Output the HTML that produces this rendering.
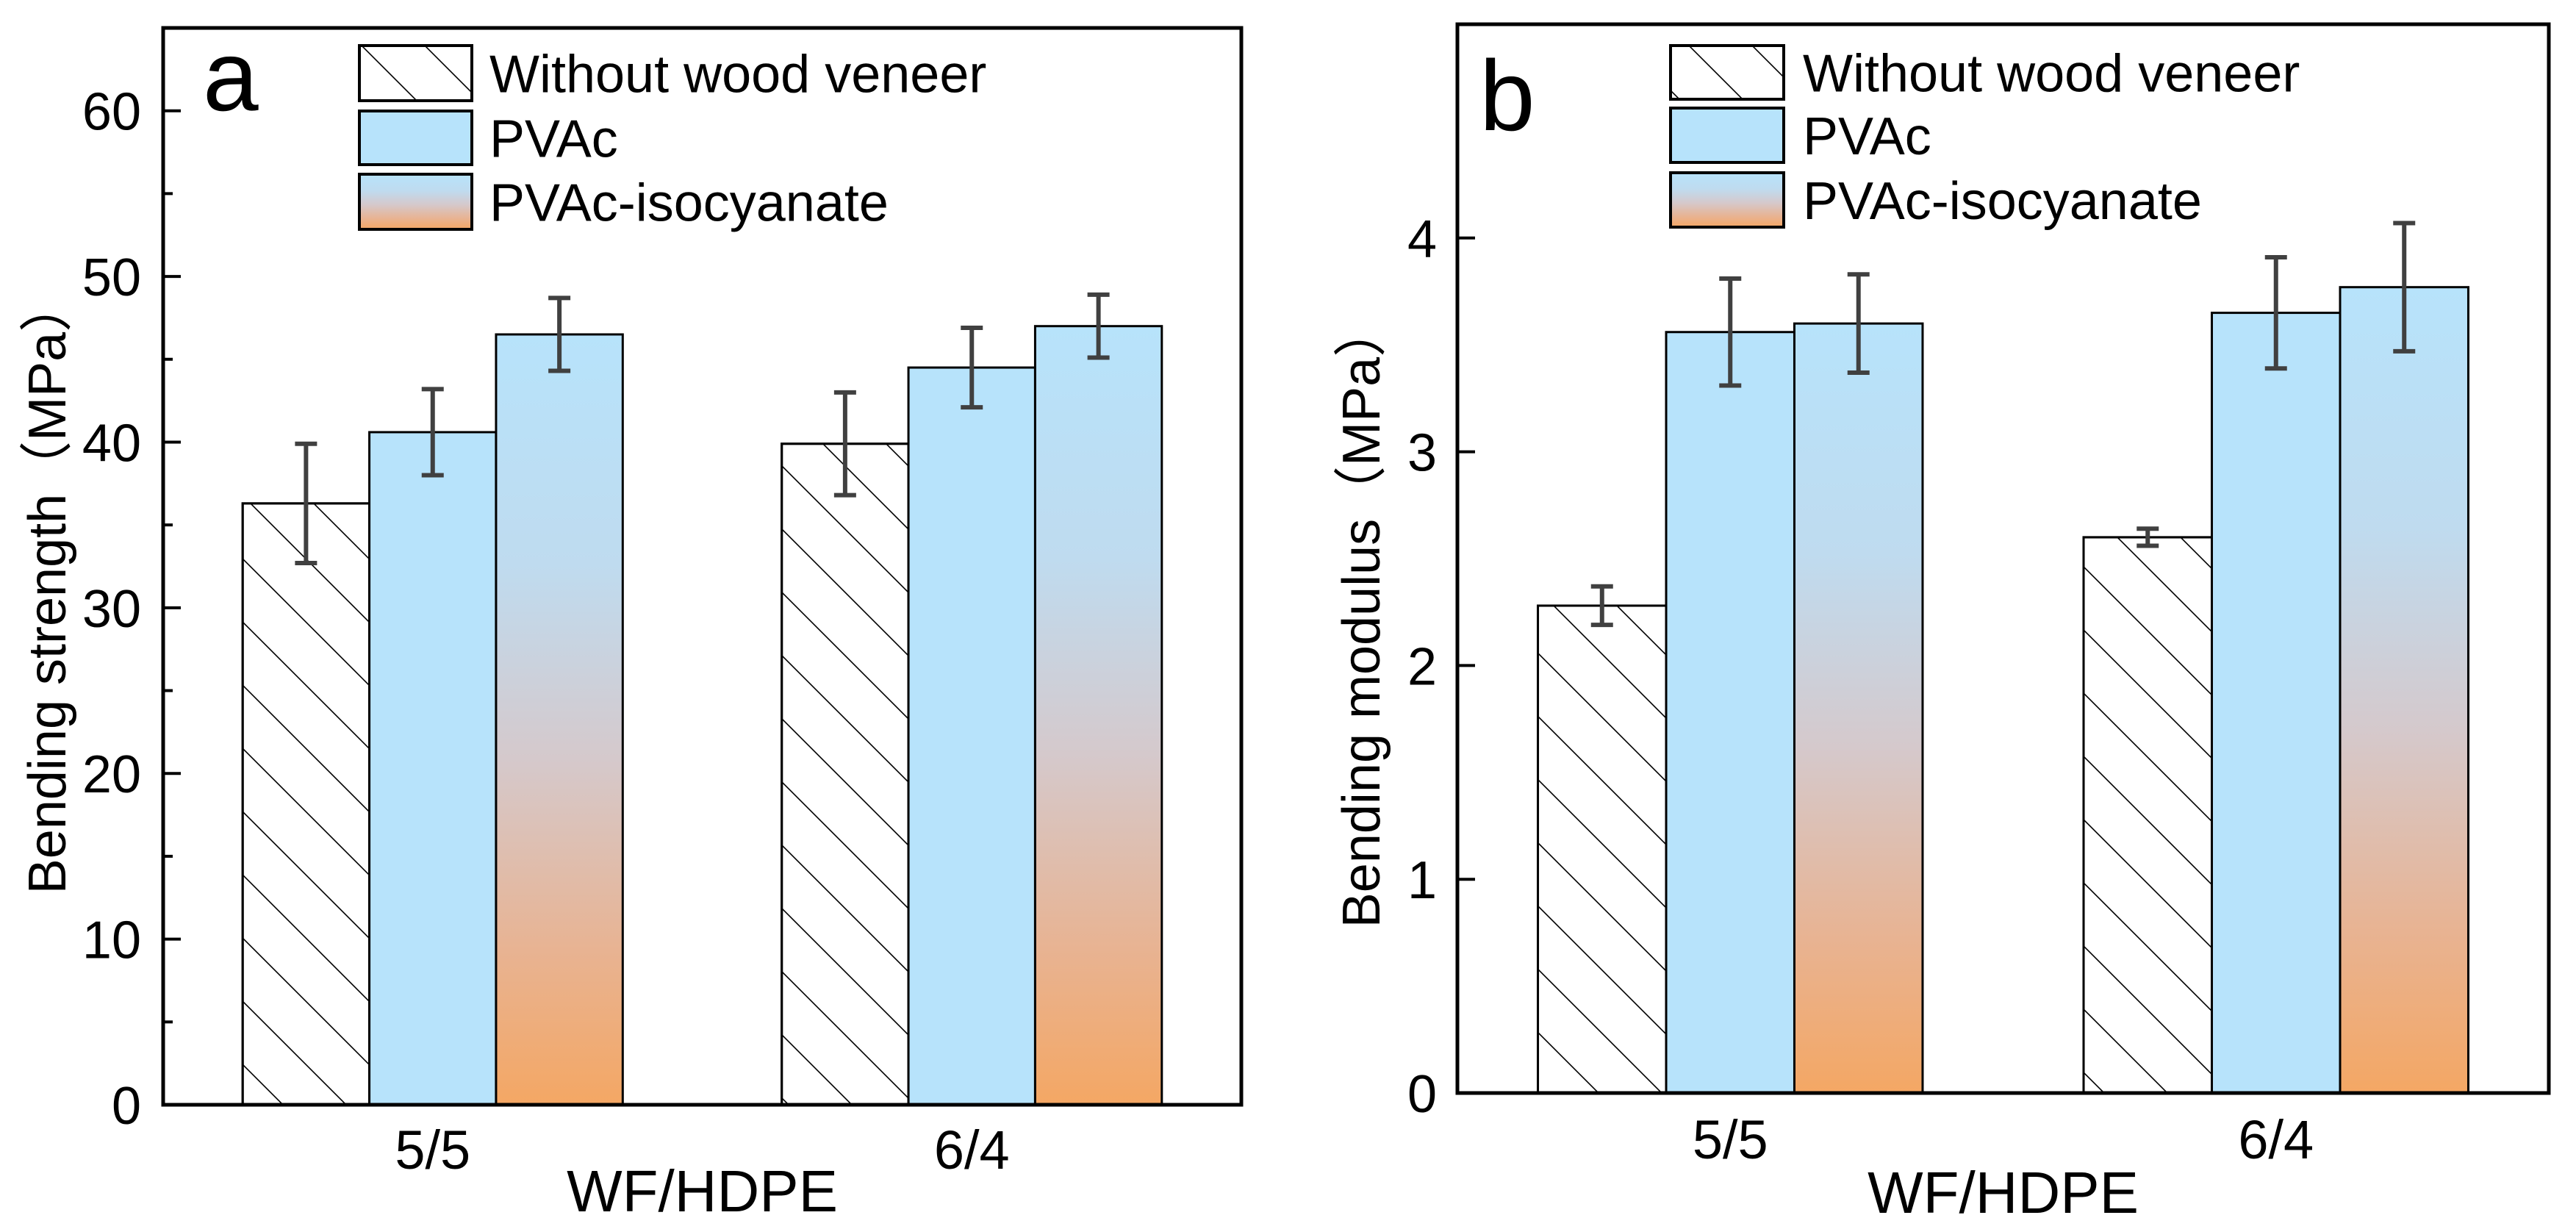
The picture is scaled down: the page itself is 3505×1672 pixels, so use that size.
<!DOCTYPE html>
<html><head><meta charset="utf-8"><style>
html,body{margin:0;padding:0;background:#fff;}
svg{display:block;}
text{font-family:"Liberation Sans","Noto Sans CJK SC",sans-serif;fill:#000;}
</style></head><body>
<svg id="fig" width="3505" height="1672" viewBox="0 0 3505 1672" xmlns="http://www.w3.org/2000/svg">
<defs>
<linearGradient id="isoGrad" x1="0" y1="0" x2="0" y2="1">
<stop offset="0" stop-color="#b7e3fb"/>
<stop offset="0.3" stop-color="#bfdbef"/>
<stop offset="0.55" stop-color="#d5c9cc"/>
<stop offset="0.8" stop-color="#e8b392"/>
<stop offset="1" stop-color="#f4a764"/>
</linearGradient>
<pattern id="hatch" patternUnits="userSpaceOnUse" width="86" height="86">
<path d="M-10,-10 L96,96 M-96,-10 L10,96 M76,-10 L182,96" stroke="#000" stroke-width="1.6"/>
</pattern>
</defs>
</svg>
<script>
// Shared data
const categories = ["5/5", "6/4"];
const seriesNames = ["Without wood veneer", "PVAc", "PVAc-isocyanate"];
// Panel a: bending strength (MPa)
const strengthWithout = [36.3, 39.9];
const strengthPVAc = [40.6, 44.5];
const strengthIso = [46.5, 47.0];
const strengthErrWithout = [3.6, 3.1];
const strengthErrPVAc = [2.6, 2.4];
const strengthErrIso = [2.2, 1.9];
const strengthTicks = [0, 10, 20, 30, 40, 50, 60];
const strengthMinor = [5, 15, 25, 35, 45, 55];
// Panel b: bending modulus
const modulusWithout = [2.28, 2.60];
const modulusPVAc = [3.56, 3.65];
const modulusIso = [3.60, 3.77];
const modulusErrWithout = [0.09, 0.04];
const modulusErrPVAc = [0.25, 0.26];
const modulusErrIso = [0.23, 0.30];
const modulusTicks = [0, 1, 2, 3, 4];

const NS = "http://www.w3.org/2000/svg";
const svg = document.getElementById("fig");
function mk(tag, attrs, parent){
  const e = document.createElementNS(NS, tag);
  for (const k in attrs) e.setAttribute(k, attrs[k]);
  (parent || svg).appendChild(e);
  return e;
}
const fills = ["url(#hatch)", "#b7e3fb", "url(#isoGrad)"];

function panel(cfg){
  const g = mk("g", {});
  
  
  const L=cfg.left,R=cfg.right,T=cfg.top,B=cfg.bottom;
  const xs = v => L + (v - 0.5) / 2 * (R - L);
  const ys = v => B - (v - cfg.ymin) / (cfg.ymax - cfg.ymin) * (B - T);
  const bw = 0.235 * (R - L) / 2;
  const series = [cfg.s0, cfg.s1, cfg.s2];
  const errs = [cfg.e0, cfg.e1, cfg.e2];
  categories.forEach((c, ci) => {
    const cx = xs(ci + 1);
    series.forEach((s, si) => {
      const x0 = cx + (si - 1.5) * bw;
      const r = mk("rect", {x:x0, y:ys(s[ci]), width:bw, height:ys(0)-ys(s[ci]), fill: si===0?"#fff":fills[si], stroke:"#000","stroke-width":3}, g);
      
      
      if (si===0){
        const h = mk("rect", {x:x0, y:ys(s[ci]), width:bw, height:ys(0)-ys(s[ci]), fill:"url(#hatch)", stroke:"#000","stroke-width":3}, g);
        
        
      }
    });
  });
  categories.forEach((c, ci) => {
    const cx = xs(ci + 1);
    series.forEach((s, si) => {
      const mx = cx + (si - 1) * bw;
      const hi = ys(s[ci] + errs[si][ci]), lo = ys(s[ci] - errs[si][ci]);
      const eg = mk("g", {stroke:"#404040","stroke-width":6}, g);
      
      
      mk("line", {x1:mx, x2:mx, y1:hi, y2:lo}, eg);
      mk("line", {x1:mx-15, x2:mx+15, y1:hi, y2:hi}, eg);
      mk("line", {x1:mx-15, x2:mx+15, y1:lo, y2:lo}, eg);
    });
  });
  const fr = mk("rect", {x:L, y:T, width:R-L, height:B-T, fill:"none", stroke:"#000","stroke-width":5}, g);
  
  
  cfg.ticks.forEach(t => {
    mk("line", {x1:L, x2:L+24, y1:ys(t), y2:ys(t), stroke:"#000","stroke-width":4}, g);
    const tl = mk("text", {x:cfg.tickRight, y:ys(t)+26, "text-anchor":"end","font-size":72}, g);
    tl.textContent = t;
    
    
  });
  (cfg.minor||[]).forEach(t => {
    mk("line", {x1:L, x2:L+13, y1:ys(t), y2:ys(t), stroke:"#000","stroke-width":4}, g);
  });
  categories.forEach((c, ci) => {
    const xl = mk("text", {x:xs(ci+1), y:cfg.xTickY, "text-anchor":"middle","font-size":74}, g);
    xl.textContent = c;
    
    
  });
  const xt = mk("text", {x:(L+R)/2, y:cfg.xTitleY, "text-anchor":"middle","font-size":80}, g);
  xt.textContent = "WF/HDPE";
  
  
  const yt = mk("text", {x:0, y:0, "text-anchor":"middle","font-size":72, transform:"translate("+(cfg.yTitleX+26)+","+cfg.yTitleY+") rotate(-90)"}, g);
  yt.textContent = cfg.yTitle;
  
  
  const pl = mk("text", {x:cfg.letterX, y:cfg.letterY, "font-size":136}, g);
  pl.textContent = cfg.letter;
  
  
  cfg.legendBoxes.forEach((bx, i) => {
    const lr = mk("rect", {x:cfg.legX0, y:bx[0], width:cfg.legX1-cfg.legX0, height:bx[1]-bx[0], fill: i===0?"#fff":fills[i], stroke:"#000","stroke-width":4}, g);
    
    
    if (i===0){
      const hh = mk("rect", {x:cfg.legX0, y:bx[0], width:cfg.legX1-cfg.legX0, height:bx[1]-bx[0], fill:"url(#hatch)", stroke:"#000","stroke-width":4}, g);
      
      
    }
    const lt = mk("text", {x:cfg.legTextX, y:(bx[0]+bx[1])/2+26, "font-size":72}, g);
    lt.textContent = seriesNames[i];
    
    
  });
}

panel({name:"panel-a-strength", left:222, right:1689, top:38, bottom:1503, ymin:0, ymax:65,
  s0:strengthWithout, s1:strengthPVAc, s2:strengthIso, e0:strengthErrWithout, e1:strengthErrPVAc, e2:strengthErrIso,
  ticks:strengthTicks, minor:strengthMinor, tickRight:192, xTickY:1590, xTitleY:1648,
  yTitle:"Bending strength（MPa）", yTitleX:63, yTitleY:798, letter:"a", letterX:276, letterY:150,
  legendBoxes:[[62,137],[151,224],[237,312]], legX0:489, legX1:642, legTextX:666});

panel({name:"panel-b-modulus", left:1983, right:3468, top:33, bottom:1487, ymin:0, ymax:5,
  s0:modulusWithout, s1:modulusPVAc, s2:modulusIso, e0:modulusErrWithout, e1:modulusErrPVAc, e2:modulusErrIso,
  ticks:modulusTicks, minor:[], tickRight:1955, xTickY:1576, xTitleY:1650,
  yTitle:"Bending modulus（MPa）", yTitleX:1851, yTitleY:838, letter:"b", letterX:2013, letterY:177,
  legendBoxes:[[62,135],[147,221],[235,309]], legX0:2273, legX1:2427, legTextX:2453});
</script>
</body></html>
